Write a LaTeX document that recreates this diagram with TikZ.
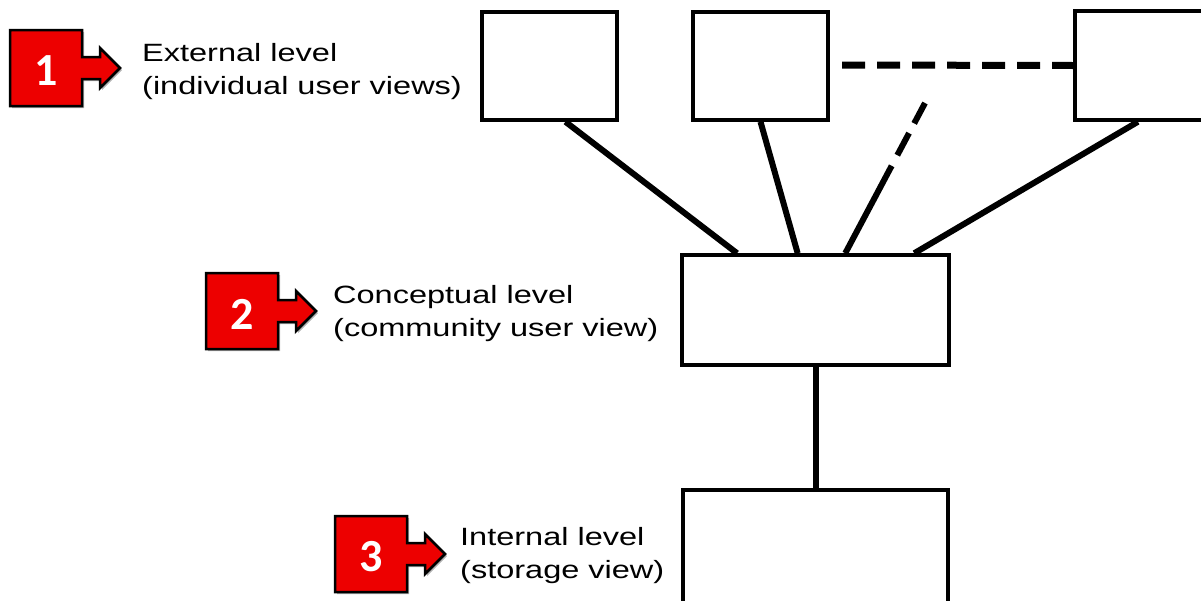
\documentclass[tikz,border=0pt]{standalone}
\usepackage{fontspec}
\setmainfont[FakeStretch=1.3]{Liberation Sans}
\newfontfamily\numfont{Carlito}
\usetikzlibrary{calc}
\usetikzlibrary{shadows}
\definecolor{callred}{rgb}{0.93, 0.0, 0.0}
\tikzset{box/.style = {draw, line width=3.5pt, fill=white, inner sep=0pt}}
\tikzset{link/.style = {line width=6pt}}
\tikzset{levellabel/.style = {anchor=base west, align=left, inner sep=0pt,
                              font=\fontsize{25}{33}\selectfont}}
\tikzset{callout/.style = {fill=callred, draw=black, line width=2.5pt, line join=miter,
                           drop shadow={shadow xshift=2pt, shadow yshift=-2pt,
                                        opacity=0.3, fill=black}}}
\newcommand{\levelmark}[4]{%
  \begin{scope}[shift={(#1, #2)}]
    \draw [callout] (0, 0) -- (72, 0) -- (72, 27) -- (90, 27) -- (90, 18) -- (110, 38)
      -- (90, 58) -- (90, 49) -- (72, 49) -- (72, 76) -- (0, 76) -- cycle;
    \node [text=white, font=\numfont\bfseries\fontsize{46}{46}\selectfont] (#3) at (36, 41) {#4};
  \end{scope}}

\begin{document}
\begin{tikzpicture}[x=1pt, y=-1pt]
      \useasboundingbox (0, 0) rectangle (1201, 600);

      \node [box, minimum width=135pt, minimum height=108pt] (ext1) at (549.5, 66) {};
      \node [box, minimum width=135pt, minimum height=108pt] (ext2) at (760.5, 66) {};
      \node [box, minimum width=135pt, minimum height=109pt] (ext3) at (1142.5, 65.5) {};
      \node [box, minimum width=267pt, minimum height=110pt] (concept) at (815.5, 310) {};
      \node [box, minimum width=265pt, minimum height=116pt] (intern) at (815.5, 548) {};
      \coordinate (dashend) at (842, 65);
      \coordinate (diagend) at (925, 103);

      \draw [link] ($(ext1.south west)!0.615!(ext1.south east)$) -- ($(concept.north west)!0.21!(concept.north east)$);
      \draw [link] (ext2.south) -- ($(concept.north west)!0.434!(concept.north east)$);
      \draw [link] ($(ext3.south west)!0.467!(ext3.south east)$) -- ($(concept.north west)!0.865!(concept.north east)$);
      \draw [line width=6pt, dash pattern=on 99pt off 12pt on 25pt off 11pt on 25pt off 20pt]
        ($(concept.north west)!0.61!(concept.north east)$) -- (diagend);
      \draw [line width=7pt, dash pattern=on 23pt off 12pt] (dashend) -- (ext3.west);
      \draw [link] (concept.south) -- (intern.north);

      \levelmark{10}{30}{mark1}{1}
      \levelmark{206}{273}{mark2}{2}
      \levelmark{335}{516}{mark3}{3}

      \node [levellabel] (extlabel) at (142, 94) {External level\\(individual user views)};
      \node [levellabel] (conlabel) at (333, 336) {Conceptual level\\(community user view)};
      \node [levellabel] (intlabel) at (460, 578) {Internal level\\(storage view)};
    \end{tikzpicture}
\end{document}
